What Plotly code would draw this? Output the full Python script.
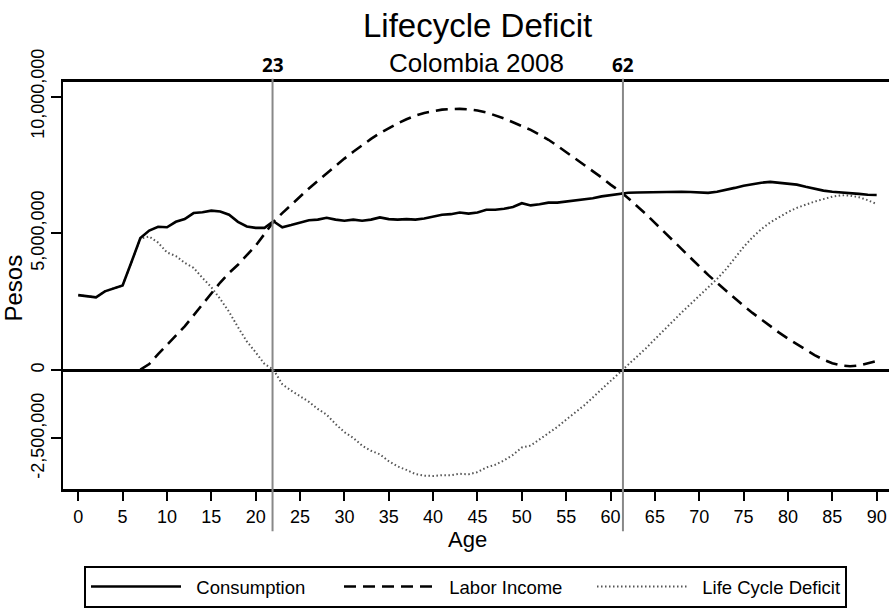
import plotly.graph_objects as go

# ---------------- data (values in millions of pesos) ----------------
ages = list(range(0, 91))

consumption = [
    2.74, 2.70, 2.66, 2.88, 2.98, 3.09, 3.95, 4.83, 5.10, 5.24,
    5.22, 5.42, 5.52, 5.74, 5.77, 5.83, 5.80, 5.68, 5.42, 5.25,
    5.20, 5.20, 5.44, 5.22, 5.30, 5.40, 5.48, 5.50, 5.57, 5.50,
    5.46, 5.50, 5.46, 5.50, 5.58, 5.52, 5.50, 5.52, 5.50, 5.54,
    5.60, 5.68, 5.70, 5.76, 5.72, 5.76, 5.86, 5.86, 5.90, 5.96,
    6.10, 6.02, 6.06, 6.12, 6.12, 6.16, 6.19, 6.22, 6.28, 6.35,
    6.40, 6.45, 6.48, 6.49, 6.50, 6.51, 6.52, 6.52, 6.52, 6.51,
    6.50, 6.48, 6.52, 6.58, 6.66, 6.74, 6.80, 6.85, 6.88, 6.85,
    6.82, 6.78, 6.70, 6.62, 6.56, 6.52, 6.50, 6.47, 6.44, 6.41,
    6.40,
]

# no labour income is drawn before age 7
labor_income = [
    None, None, None, None, None, None, None, 0.02, 0.22, 0.58,
    0.92, 1.25, 1.60, 2.00, 2.40, 2.80, 3.20, 3.55, 3.85, 4.20,
    4.55, 4.98, 5.42, 5.74, 6.05, 6.35, 6.64, 6.92, 7.20, 7.47,
    7.73, 7.98, 8.22, 8.45, 8.66, 8.85, 9.02, 9.17, 9.30, 9.40,
    9.47, 9.52, 9.54, 9.55, 9.53, 9.49, 9.42, 9.32, 9.20, 9.06,
    8.93, 8.78, 8.60, 8.42, 8.20, 7.97, 7.75, 7.52, 7.28, 7.04,
    6.78, 6.55, 6.28, 6.00, 5.70, 5.38, 5.06, 4.74, 4.42, 4.10,
    3.79, 3.48, 3.19, 2.90, 2.62, 2.35, 2.09, 1.84, 1.60, 1.37,
    1.15, 0.94, 0.74, 0.55, 0.38, 0.25, 0.17, 0.14, 0.17, 0.24,
    0.33,
]

life_cycle_deficit = [
    2.74, 2.70, 2.66, 2.88, 2.98, 3.09, 3.95, 4.81, 4.88, 4.66,
    4.30, 4.17, 3.92, 3.74, 3.37, 3.03, 2.60, 2.13, 1.57, 1.05,
    0.65, 0.22, 0.02, -0.52, -0.75, -0.95, -1.16, -1.42, -1.63, -1.97,
    -2.27, -2.48, -2.76, -2.95, -3.08, -3.33, -3.52, -3.65, -3.80, -3.86,
    -3.87, -3.84, -3.84, -3.79, -3.81, -3.73, -3.56, -3.46, -3.30, -3.10,
    -2.83, -2.76, -2.54, -2.30, -2.08, -1.81, -1.56, -1.30, -1.00, -0.69,
    -0.38, -0.10, 0.20, 0.49, 0.80, 1.13, 1.46, 1.78, 2.10, 2.41,
    2.71, 3.00, 3.33, 3.68, 4.10, 4.50, 4.85, 5.15, 5.40, 5.60,
    5.78, 5.93, 6.05, 6.16, 6.25, 6.34, 6.39, 6.38, 6.32, 6.21,
    6.07,
]

# ages where the deficit changes sign, and their labels
crossing_ages = [21.9, 61.4]
crossing_labels = ["23", "62"]

x_ticks = list(range(0, 91, 5))
y_tickvals = [-2.5, 0, 5, 10]
y_ticktext = ["-2,500,000", "0", "5,000,000", "10,000,000"]

# ---------------- figure ----------------
W, H = 889, 608
FONT = "Liberation Sans, Arial, sans-serif"
NB = "\u00a0"


def py(px):  # pixel row -> paper fraction (margins are zero)
    return 1 - px / H


fig = go.Figure()

fig.add_trace(go.Scatter(
    x=ages, y=life_cycle_deficit, mode="lines", name=NB * 2 + "Life Cycle Deficit",
    line=dict(color="#555555", width=2, dash="1.5px,2.5px"), legendrank=3,
))
fig.add_trace(go.Scatter(
    x=ages, y=labor_income, mode="lines", name=NB * 2 + "Labor Income",
    line=dict(color="black", width=2.6, dash="12px,7px"), legendrank=2,
    connectgaps=False,
))
fig.add_trace(go.Scatter(
    x=ages, y=consumption, mode="lines", name=NB * 2 + "Consumption",
    line=dict(color="black", width=2.6), legendrank=1,
))

for xa, lab in zip(crossing_ages, crossing_labels):
    fig.add_shape(type="line", xref="x", yref="paper", x0=xa, x1=xa,
                  y0=py(532), y1=py(79), line=dict(color="#888888", width=2),
                  layer="above")
    fig.add_annotation(x=xa, xref="x", y=py(65), yref="paper", text="<b>%s</b>" % lab,
                       showarrow=False, yanchor="middle",
                       font=dict(family="Open Sans, DejaVu Sans", size=19, color="black"))

# titles
fig.add_annotation(x=477 / W, xref="paper", y=py(25.5), yref="paper", yanchor="middle",
                   text="Lifecycle Deficit", showarrow=False,
                   font=dict(family=FONT, size=33, color="black"))
fig.add_annotation(x=476 / W, xref="paper", y=py(63.5), yref="paper", yanchor="middle",
                   text="Colombia 2008", showarrow=False,
                   font=dict(family=FONT, size=26, color="black"))
fig.add_annotation(x=467 / W, xref="paper", y=py(540), yref="paper", yanchor="middle",
                   text="Age", showarrow=False,
                   font=dict(family=FONT, size=22, color="black"))
fig.add_annotation(x=14 / W, xref="paper", y=py(289), yref="paper", yanchor="middle",
                   xanchor="center", textangle=-90,
                   text="Pesos", showarrow=False,
                   font=dict(family=FONT, size=24, color="black"))

fig.update_layout(
    width=W, height=H,
    margin=dict(l=0, r=0, t=0, b=0),
    plot_bgcolor="white", paper_bgcolor="white",
    font=dict(family=FONT, color="black", size=18),
    showlegend=True,
    legend=dict(orientation="h", x=84 / W, xanchor="left", y=py(567), yanchor="top",
                bordercolor="black", borderwidth=2, bgcolor="white",
                font=dict(family=FONT, size=18.5, color="black"),
                itemwidth=90, entrywidthmode="pixels", entrywidth=148,
                traceorder="normal"),
    xaxis=dict(domain=[63 / W, 1], range=[-1.72, 91.39], tickvals=x_ticks,
               ticks="outside", ticklen=9, tickwidth=2, tickcolor="black",
               showline=True, linewidth=3, linecolor="black", mirror=True,
               showgrid=False, zeroline=False, automargin=False,
               tickfont=dict(size=18)),
    yaxis=dict(domain=[py(490), py(82)], range=[-4.354, 10.536],
               tickvals=y_tickvals, ticktext=y_ticktext,
               tickangle=-90, ticks="outside", ticklen=10, tickwidth=2,
               tickcolor="black", showline=True, linewidth=2, linecolor="black",
               showgrid=False, zeroline=True, zerolinewidth=3, zerolinecolor="black",
               automargin=False, tickfont=dict(size=18)),
)

fig.write_html("out.html", config={"displayModeBar": False},
               post_script="document.body.style.margin='0px';")
